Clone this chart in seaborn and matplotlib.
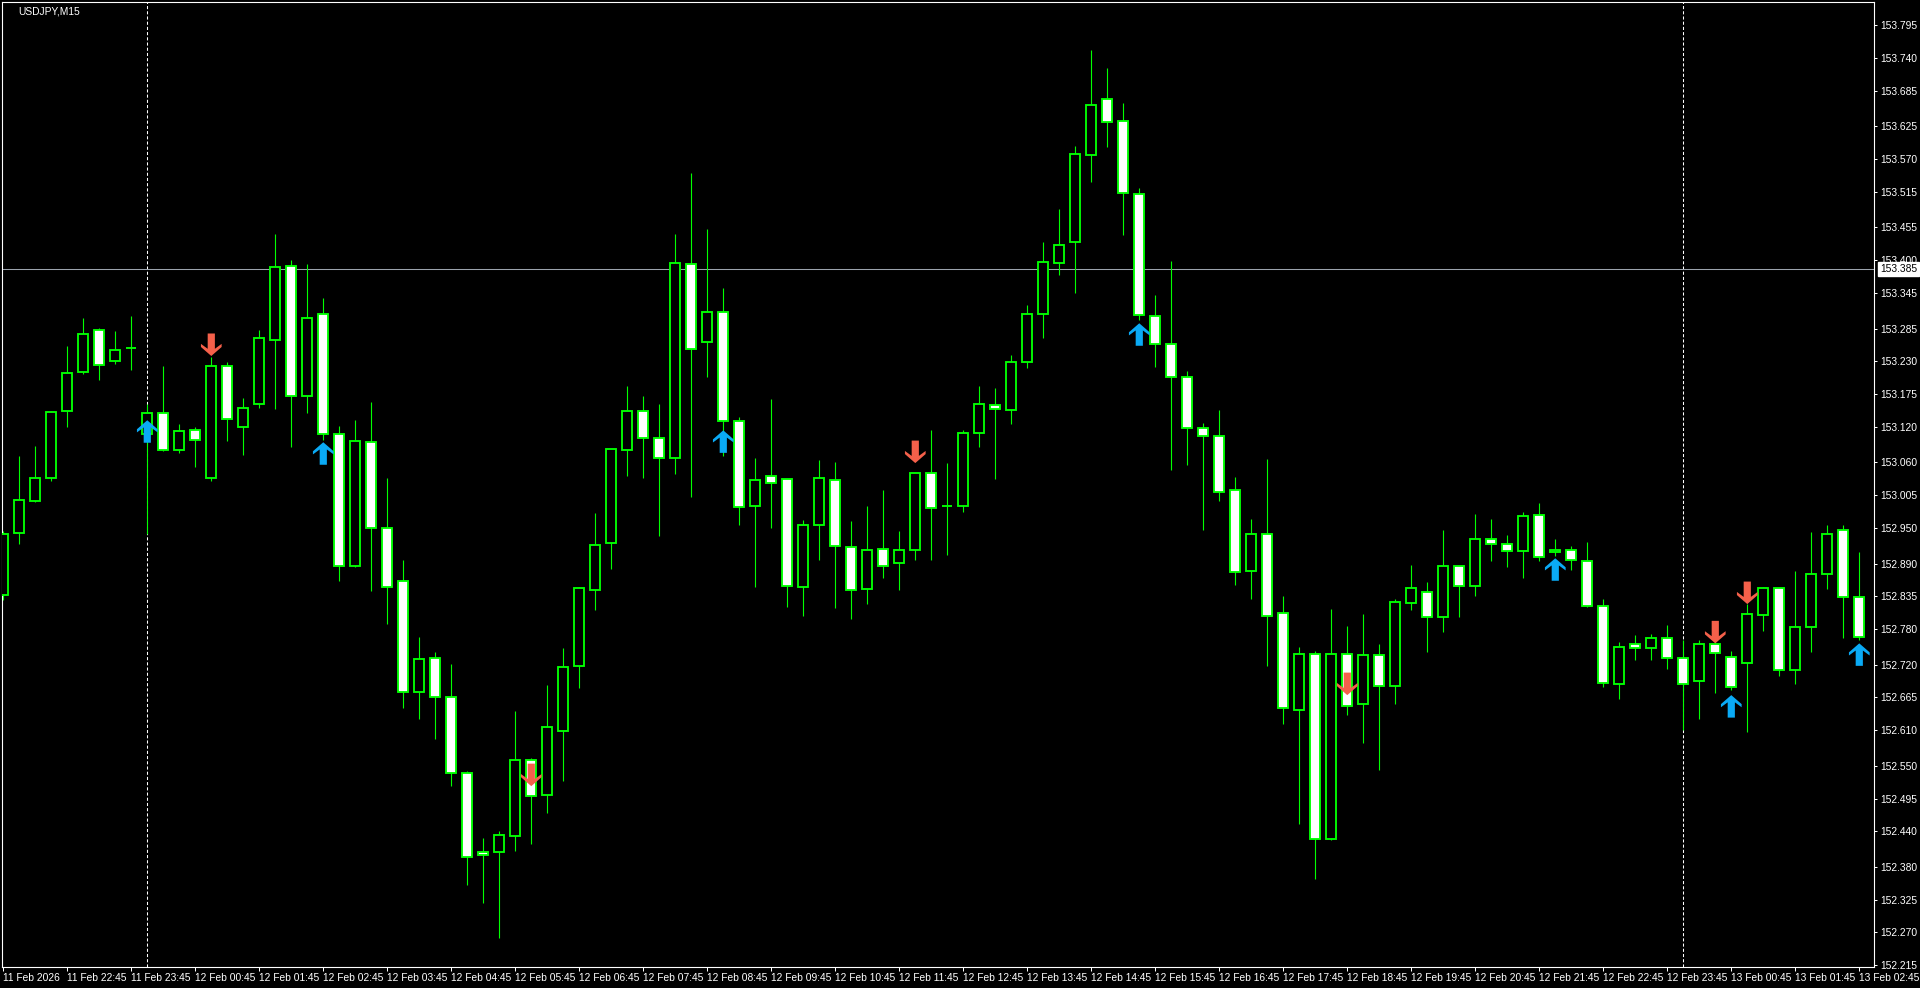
import numpy as np
import pandas as pd
import seaborn as sns
import matplotlib.pyplot as plt
from matplotlib.path import Path

# USDJPY M15 bars, 11 Feb 21:45 -> 13 Feb 02:45
opens = [152.837, 152.941, 152.995, 153.034, 153.146, 153.212, 153.282, 153.230, 153.252, 153.108,
         153.143, 153.081, 153.114, 153.034, 153.222, 153.119, 153.158, 153.266, 153.390, 153.171,
         153.309, 153.108, 152.886, 153.094, 152.950, 152.861, 152.674, 152.731, 152.666, 152.538,
         152.405, 152.405, 152.432, 152.560, 152.501, 152.608, 152.718, 152.845, 152.924, 153.081,
         153.146, 153.101, 153.067, 153.393, 153.262, 153.313, 153.129, 152.987, 153.037, 153.032,
         152.850, 152.955, 153.030, 152.918, 152.847, 152.914, 152.891, 152.913, 153.042, 152.987,
         152.987, 153.109, 153.156, 153.148, 153.229, 153.309, 153.395, 153.430, 153.577, 153.671,
         153.634, 153.511, 153.306, 153.259, 153.203, 153.118, 153.104, 153.013, 152.877, 152.940,
         152.807, 152.644, 152.738, 152.427, 152.738, 152.654, 152.736, 152.684, 152.824, 152.842,
         152.800, 152.886, 152.852, 152.931, 152.923, 152.911, 152.971, 152.909, 152.913, 152.894,
         152.819, 152.687, 152.755, 152.748, 152.765, 152.731, 152.692, 152.755, 152.733, 152.723,
         152.803, 152.849, 152.711, 152.783, 152.872, 152.946, 152.834]
highs = [152.945, 153.071, 153.087, 153.146, 153.256, 153.303, 153.286, 153.281, 153.306, 153.158,
         153.222, 153.124, 153.119, 153.237, 153.229, 153.168, 153.282, 153.444, 153.400, 153.393,
         153.336, 153.121, 153.131, 153.161, 153.034, 152.896, 152.766, 152.741, 152.721, 152.541,
         152.429, 152.440, 152.642, 152.563, 152.686, 152.748, 152.850, 152.975, 153.082, 153.188,
         153.171, 153.158, 153.444, 153.546, 153.452, 153.353, 153.136, 153.067, 153.166, 153.032,
         152.963, 153.064, 153.061, 152.961, 152.987, 153.013, 152.945, 153.042, 153.114, 153.059,
         153.114, 153.188, 153.185, 153.240, 153.324, 153.430, 153.486, 153.592, 153.753, 153.723,
         153.664, 153.521, 153.341, 153.398, 153.213, 153.126, 153.148, 153.035, 152.965, 153.066,
         152.835, 152.750, 152.743, 152.814, 152.785, 152.805, 152.755, 152.830, 152.887, 152.859,
         152.946, 152.886, 152.973, 152.965, 152.938, 152.977, 152.992, 152.931, 152.919, 152.926,
         152.830, 152.758, 152.770, 152.771, 152.787, 152.761, 152.761, 152.760, 152.743, 152.822,
         152.850, 152.849, 152.877, 152.943, 152.955, 152.955, 152.909]
lows = [152.829, 152.923, 152.993, 153.029, 153.119, 153.208, 153.198, 153.225, 153.215, 152.940,
        153.079, 153.076, 153.052, 153.029, 153.096, 153.072, 153.151, 153.150, 153.086, 153.143,
        153.098, 152.861, 152.884, 152.844, 152.788, 152.647, 152.629, 152.595, 152.516, 152.350,
        152.319, 152.261, 152.407, 152.419, 152.471, 152.524, 152.681, 152.812, 152.881, 153.037,
        153.034, 152.936, 153.040, 153.002, 153.203, 153.071, 152.955, 152.850, 152.950, 152.817,
        152.802, 152.896, 152.815, 152.797, 152.822, 152.866, 152.845, 152.896, 152.896, 152.904,
        152.977, 153.086, 153.032, 153.124, 153.219, 153.269, 153.375, 153.345, 153.531, 153.590,
        153.442, 153.299, 153.220, 153.047, 153.055, 152.946, 152.995, 152.854, 152.830, 152.718,
        152.620, 152.452, 152.360, 152.425, 152.635, 152.588, 152.543, 152.654, 152.812, 152.741,
        152.775, 152.800, 152.835, 152.894, 152.884, 152.866, 152.894, 152.903, 152.879, 152.817,
        152.682, 152.662, 152.728, 152.728, 152.713, 152.610, 152.629, 152.672, 152.677, 152.607,
        152.776, 152.701, 152.687, 152.741, 152.847, 152.765, 152.761]
closes = [152.940, 152.997, 153.034, 153.145, 153.210, 153.276, 153.224, 153.249, 153.252, 153.143,
          153.081, 153.113, 153.098, 153.222, 153.133, 153.151, 153.269, 153.388, 153.171, 153.303,
          153.108, 152.886, 153.096, 152.950, 152.850, 152.674, 152.729, 152.666, 152.538, 152.397,
          152.400, 152.434, 152.560, 152.499, 152.615, 152.716, 152.849, 152.921, 153.082, 153.146,
          153.101, 153.067, 153.395, 153.250, 153.313, 153.129, 152.985, 153.030, 153.025, 152.852,
          152.955, 153.034, 152.919, 152.845, 152.913, 152.886, 152.913, 153.042, 152.983, 152.987,
          153.109, 153.158, 153.150, 153.229, 153.309, 153.397, 153.425, 153.578, 153.661, 153.632,
          153.513, 153.308, 153.259, 153.203, 153.118, 153.104, 153.010, 152.876, 152.940, 152.802,
          152.647, 152.738, 152.427, 152.738, 152.650, 152.736, 152.684, 152.825, 152.849, 152.800,
          152.886, 152.852, 152.931, 152.923, 152.911, 152.970, 152.901, 152.913, 152.896, 152.819,
          152.689, 152.750, 152.748, 152.765, 152.731, 152.687, 152.755, 152.740, 152.682, 152.805,
          152.849, 152.711, 152.783, 152.872, 152.940, 152.834, 152.766]

# one time label every 4 bars (1 hour)
time_labels = ["11 Feb 2026", "11 Feb 22:45", "11 Feb 23:45", "12 Feb 00:45", "12 Feb 01:45",
               "12 Feb 02:45", "12 Feb 03:45", "12 Feb 04:45", "12 Feb 05:45", "12 Feb 06:45",
               "12 Feb 07:45", "12 Feb 08:45", "12 Feb 09:45", "12 Feb 10:45", "12 Feb 11:45",
               "12 Feb 12:45", "12 Feb 13:45", "12 Feb 14:45", "12 Feb 15:45", "12 Feb 16:45",
               "12 Feb 17:45", "12 Feb 18:45", "12 Feb 19:45", "12 Feb 20:45", "12 Feb 21:45",
               "12 Feb 22:45", "12 Feb 23:45", "13 Feb 00:45", "13 Feb 01:45", "13 Feb 02:45"]
price_ticks = [153.795, 153.740, 153.685, 153.625, 153.570, 153.515, 153.455, 153.400, 153.345,
               153.285, 153.230, 153.175, 153.120, 153.060, 153.005, 152.950, 152.890, 152.835,
               152.780, 152.720, 152.665, 152.610, 152.550, 152.495, 152.440, 152.380, 152.325,
               152.270, 152.215]
last_price = 153.385

# indicator arrows
buy_bars = [9, 20, 45, 71, 97, 108, 116]
buy_prices = [153.131, 153.094, 153.114, 153.294, 152.899, 152.669, 152.756]
sell_bars = [13, 33, 57, 84, 107, 109]
sell_prices = [153.239, 152.516, 153.059, 152.669, 152.756, 152.822]

# day separators (00:00)
separator_bars = [9, 105]

df = pd.DataFrame({"open": opens, "high": highs, "low": lows, "close": closes})
df["bar"] = np.arange(len(df))
up = df["close"] >= df["open"]

sns.set_theme(style="ticks", rc={"axes.facecolor": "black", "figure.facecolor": "black"})
plt.rcParams["font.family"] = ["Liberation Sans", "DejaVu Sans"]

fs = 7.4
fig = plt.figure(figsize=(19.2, 9.88), dpi=100)
ax = fig.add_axes([2 / 1920, 21 / 988, 1872 / 1920, 965 / 988])
ax.set_facecolor("black")

green = "#00FF00"
ax.vlines(df["bar"], df["low"], df["high"], color=green, lw=0.8, zorder=2)
ax.bar(df["bar"], (df["close"] - df["open"]).abs(),
       bottom=df[["open", "close"]].min(axis=1), width=0.6,
       color=np.where(up, "black", "white"), edgecolor=green, linewidth=1.35, zorder=3)

# arrow markers, tip at (0, 0)
up_arrow = Path([(0, 0), (0.46, -0.40), (0.46, -0.54), (0.16, -0.32), (0.16, -1.0),
                 (-0.16, -1.0), (-0.16, -0.32), (-0.46, -0.54), (-0.46, -0.40), (0, 0)],
                closed=True)
down_arrow = Path([(x, -y) for x, y in up_arrow.vertices], closed=True)

sns.scatterplot(x=buy_bars, y=buy_prices, marker=up_arrow, s=1050, color="#0AAAF5",
                edgecolor="none", linewidth=0, ax=ax, zorder=6, legend=False)
sns.scatterplot(x=sell_bars, y=sell_prices, marker=down_arrow, s=1050, color="#F5604A",
                edgecolor="none", linewidth=0, ax=ax, zorder=6, legend=False)

for b in separator_bars:
    ax.axvline(b, color="white", lw=0.75, ls=(0, (3, 2)), zorder=1)
ax.axhline(last_price, color="#9BA3AD", lw=0.75, zorder=1)

ax.set_xlim(-0.08, 116.92)
ax.set_ylim(152.212, 153.834)

ax.set_xticks(np.arange(len(time_labels)) * 4)
ax.set_xticklabels(time_labels, ha="left")
ax.yaxis.tick_right()
ax.set_yticks(price_ticks)
ax.set_yticklabels([f"{p:.3f}" for p in price_ticks])
ax.tick_params(axis="x", colors="white", labelsize=fs, length=3, width=0.72, pad=1.5)
ax.tick_params(axis="y", colors="white", labelsize=fs, length=2.2, width=0.72, pad=2.5)
for s in ax.spines.values():
    s.set_color("white")
    s.set_linewidth(0.8)
ax.grid(False)

ax.text(1.0032, last_price, f"{last_price:.3f}", transform=ax.get_yaxis_transform(),
        color="black", fontsize=fs, va="center", ha="left", clip_on=False, zorder=10,
        bbox=dict(boxstyle="square,pad=0.2", fc="white", ec="white"))
fig.text(18 / 1920, 1 - 11 / 988, "USDJPY,M15", color="white", fontsize=fs,
         ha="left", va="center")

fig.savefig("out.png", dpi=100, facecolor="black")
